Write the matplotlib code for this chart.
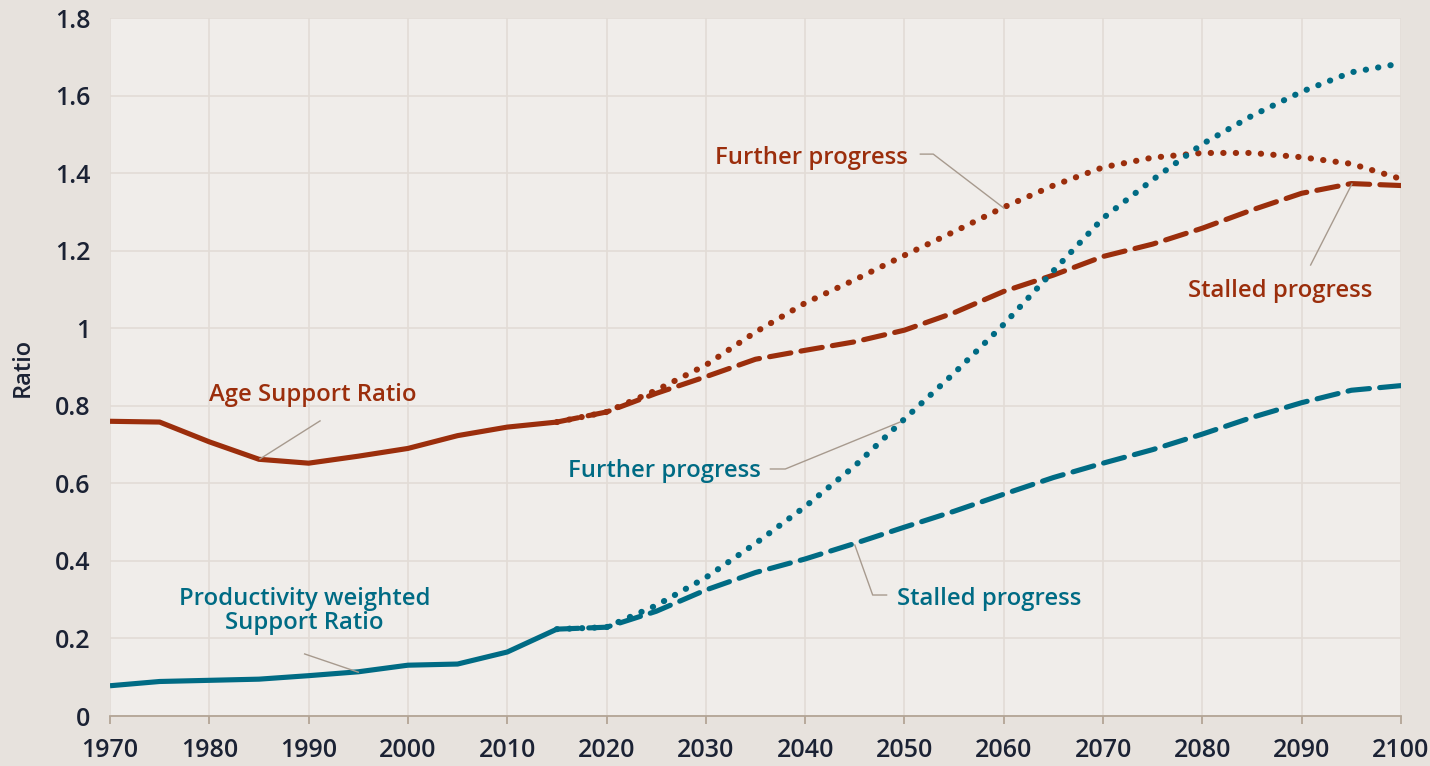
import matplotlib.pyplot as plt
from matplotlib.ticker import FuncFormatter

# historical data (solid lines)
years_hist = [1970, 1975, 1980, 1985, 1990, 1995, 2000, 2005, 2010, 2015]
age_hist = [0.760, 0.758, 0.707, 0.662, 0.652, 0.670, 0.690, 0.723, 0.745, 0.758]
prod_hist = [0.078, 0.089, 0.092, 0.095, 0.104, 0.114, 0.131, 0.134, 0.165, 0.224]

# projections
years_proj = [2015, 2020, 2025, 2030, 2035, 2040, 2045, 2050, 2055,
              2060, 2065, 2070, 2075, 2080, 2085, 2090, 2095, 2100]
age_stalled = [0.758, 0.784, 0.832, 0.875, 0.920, 0.943, 0.965, 0.995, 1.040,
               1.095, 1.137, 1.185, 1.217, 1.258, 1.305, 1.348, 1.373, 1.368]
age_further = [0.758, 0.784, 0.840, 0.905, 0.990, 1.065, 1.125, 1.188, 1.249,
               1.312, 1.368, 1.415, 1.440, 1.452, 1.452, 1.441, 1.424, 1.385]
prod_stalled = [0.224, 0.229, 0.270, 0.325, 0.370, 0.405, 0.445, 0.487, 0.528,
                0.572, 0.615, 0.652, 0.687, 0.727, 0.770, 0.808, 0.840, 0.852]
prod_further = [0.224, 0.229, 0.285, 0.357, 0.445, 0.540, 0.645, 0.766, 0.884,
                1.010, 1.148, 1.284, 1.383, 1.475, 1.548, 1.610, 1.660, 1.683]

x_ticks = list(range(1970, 2101, 10))
y_ticks = [0, 0.2, 0.4, 0.6, 0.8, 1.0, 1.2, 1.4, 1.6, 1.8]

RED = "#9b2e0c"
TEAL = "#006b84"
INK = "#1b2234"
LEADER = "#a79a8e"
OUTER_BG = "#e7e2dd"
PLOT_BG = "#f0edea"
GRID = "#e2dcd6"

plt.rcParams['font.family'] = ['Open Sans', 'DejaVu Sans']

fig = plt.figure(figsize=(14.3, 7.66), dpi=100, facecolor=OUTER_BG)
ax = fig.add_axes([110 / 1430, 50 / 766, 1291 / 1430, 698 / 766])
ax.set_facecolor(PLOT_BG)

lw = 3.7
dash = (0, (4.2, 2.0))
dot = (0, (0.05, 2.0))
dot_lw = 4.4

ax.plot(years_hist, age_hist, color=RED, lw=lw, solid_capstyle="butt", zorder=3)
ax.plot(years_hist, prod_hist, color=TEAL, lw=lw, solid_capstyle="butt", zorder=3)
ax.plot(years_proj, age_stalled, color=RED, lw=lw, linestyle=dash, dash_capstyle="round", zorder=3)
ax.plot(years_proj, age_further, color=RED, lw=dot_lw, linestyle=dot, dash_capstyle="round", zorder=3)
ax.plot(years_proj, prod_stalled, color=TEAL, lw=lw, linestyle=dash, dash_capstyle="round", zorder=3)
ax.plot(years_proj, prod_further, color=TEAL, lw=dot_lw, linestyle=dot, dash_capstyle="round", zorder=3)

ax.set_xlim(1970, 2100)
ax.set_ylim(0, 1.8)
ax.set_xticks(x_ticks)
ax.set_yticks(y_ticks)
ax.yaxis.set_major_formatter(FuncFormatter(lambda v, p: "%g" % round(v, 1)))
ax.grid(True, color=GRID, lw=1.2, zorder=0)
ax.set_axisbelow(True)

for s in ["top", "right", "left"]:
    ax.spines[s].set_visible(False)
ax.spines["bottom"].set_color("#b3a596")
ax.spines["bottom"].set_linewidth(1.3)
ax.tick_params(axis="x", length=6, width=1.3, color="#b3a596", pad=10,
               labelsize=18, labelcolor=INK)
ax.tick_params(axis="y", length=0, pad=14, labelsize=18, labelcolor=INK)
for lab in ax.get_xticklabels() + ax.get_yticklabels():
    lab.set_fontweight("semibold")

ax.set_ylabel("Ratio", fontsize=17, color=INK, fontweight="semibold")
ax.yaxis.set_label_coords(-0.058, 0.5)

# annotations: label text and leader lines
fs = 17.2
ax.text(1990.4, 0.828, "Age Support Ratio", color=RED, fontsize=fs,
        fontweight="semibold", ha="center", va="center")
ax.plot([1991.15, 1985.1], [0.761, 0.663], color=LEADER, lw=1, zorder=4)

ax.text(1989.6, 0.271, "Productivity weighted\nSupport Ratio", color=TEAL,
        fontsize=fs, fontweight="semibold", ha="center", va="center",
        linespacing=1.0)
ax.plot([1989.6, 1995.0], [0.160, 0.113], color=LEADER, lw=1, zorder=4)

ax.text(2050.35, 1.439, "Further progress", color=RED, fontsize=fs,
        fontweight="semibold", ha="right", va="center")
ax.plot([2051.6, 2052.9, 2060.0], [1.449, 1.449, 1.310], color=LEADER, lw=1, zorder=4)

ax.text(2035.5, 0.632, "Further progress", color=TEAL, fontsize=fs,
        fontweight="semibold", ha="right", va="center")
ax.plot([2036.5, 2038.0, 2049.55], [0.637, 0.637, 0.758], color=LEADER, lw=1, zorder=4)

ax.text(2087.8, 1.096, "Stalled progress", color=RED, fontsize=fs,
        fontweight="semibold", ha="center", va="center")
ax.plot([2090.9, 2095.06], [1.163, 1.372], color=LEADER, lw=1, zorder=4)

ax.text(2049.25, 0.302, "Stalled progress", color=TEAL, fontsize=fs,
        fontweight="semibold", ha="left", va="center")
ax.plot([2045.0, 2046.8, 2048.2], [0.441, 0.312, 0.312], color=LEADER, lw=1, zorder=4)

plt.savefig("out.png", dpi=100, facecolor=OUTER_BG)
